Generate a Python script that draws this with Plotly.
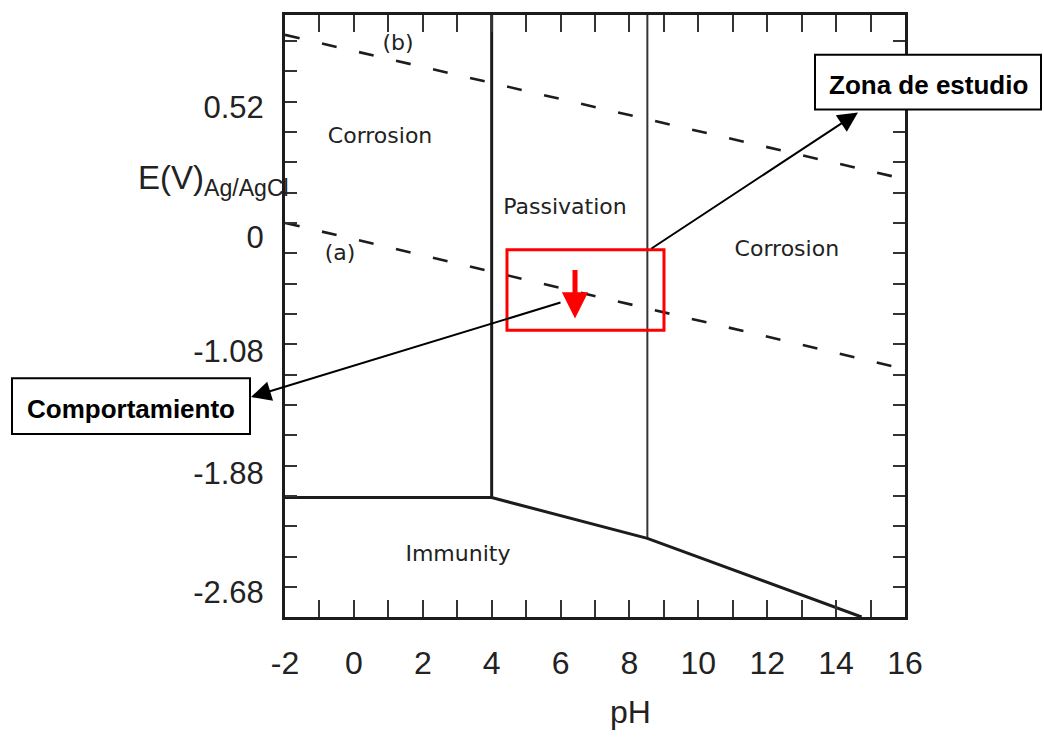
import plotly.graph_objects as go

# ---------------- data ----------------
PH_RANGE = [-2, 16]
E_RANGE = [-2.831, 1.136]

X_TICKS = [-2, 0, 2, 4, 6, 8, 10, 12, 14, 16]
Y_TICK_POS = [0.527, -0.326, -1.08, -1.88, -2.667]
Y_TICK_TEXT = ["0.52", "0", "-1.08", "-1.88", "-2.68"]

LINE_A_PH = [-2, 16]
LINE_A_E = [-0.234, -1.198]
LINE_B_PH = [-2, 16]
LINE_B_E = [1.005, 0.054]

VERT1_PH = [4, 4]
VERT1_E = [1.136, -2.044]
VERT2_PH = [8.52, 8.52]
VERT2_E = [1.136, -2.313]

BOUND_PH = [-2, 4, 8.52, 14.74]
BOUND_E = [-2.044, -2.044, -2.313, -2.831]

REGION_TEXT = ["Corrosion", "Passivation", "Corrosion", "Immunity", "(b)", "(a)"]
REGION_PH = [0.76, 6.13, 12.57, 3.02, 1.28, -0.40]
REGION_E = [0.330, -0.142, -0.418, -2.424, 0.940, -0.444]

STUDY_PH = [4.445, 9.003]
STUDY_E = [-0.942, -0.411]
ARROW_PH = 6.42
ARROW_E = -0.864

# ---------------- layout helpers (pixel -> paper) ----------------
L, R, T, B = 285, 905, 12, 617
W, H = 1044, 743


def px(x):
    return (x - L) / (R - L)


def py(y):
    return (B - y) / (B - T)


LINE_COL = "#1c1c1c"
fig = go.Figure()

dash = "15px,23px"
fig.add_trace(go.Scatter(x=LINE_A_PH, y=LINE_A_E, mode="lines",
                         line=dict(color=LINE_COL, width=2.6, dash=dash), hoverinfo="skip"))
fig.add_trace(go.Scatter(x=LINE_B_PH, y=LINE_B_E, mode="lines",
                         line=dict(color=LINE_COL, width=2.6, dash=dash), hoverinfo="skip"))
fig.add_trace(go.Scatter(x=VERT1_PH, y=VERT1_E, mode="lines",
                         line=dict(color=LINE_COL, width=3), hoverinfo="skip"))
fig.add_trace(go.Scatter(x=VERT2_PH, y=VERT2_E, mode="lines",
                         line=dict(color="#333333", width=2), hoverinfo="skip"))
fig.add_trace(go.Scatter(x=BOUND_PH, y=BOUND_E, mode="lines",
                         line=dict(color=LINE_COL, width=3), hoverinfo="skip"))

fig.add_trace(go.Scatter(x=REGION_PH, y=REGION_E, mode="text", text=REGION_TEXT,
                         textfont=dict(family="DejaVu Sans", size=22, color="#222222"),
                         textposition="middle center", hoverinfo="skip"))

# study zone rectangle
fig.add_shape(type="rect", xref="x", yref="y",
              x0=STUDY_PH[0], x1=STUDY_PH[1], y0=STUDY_E[0], y1=STUDY_E[1],
              line=dict(color="#ff0000", width=3))

annotations = []
# red arrow
annotations.append(dict(x=ARROW_PH, y=ARROW_E, xref="x", yref="y", ax=0, ay=-50,
                        text="", showarrow=True, arrowhead=2, arrowsize=1.05,
                        arrowwidth=5, arrowcolor="#ff0000"))
# black arrows
annotations.append(dict(x=px(858), y=py(110), xref="paper", yref="paper",
                        ax=650 - 858, ay=247 - 110, text="", showarrow=True,
                        arrowhead=2, arrowsize=2, arrowwidth=2, arrowcolor="black"))
annotations.append(dict(x=px(251), y=py(396), xref="paper", yref="paper",
                        ax=562 - 251, ay=301 - 396, text="", showarrow=True,
                        arrowhead=2, arrowsize=2, arrowwidth=2, arrowcolor="black"))

# boxes
fig.add_shape(type="rect", xref="paper", yref="paper", x0=px(815), x1=px(1041),
              y0=py(107), y1=py(52), line=dict(color="black", width=2),
              fillcolor="white", layer="above")
fig.add_shape(type="rect", xref="paper", yref="paper", x0=px(12), x1=px(250),
              y0=py(433), y1=py(377), line=dict(color="black", width=2),
              fillcolor="white", layer="above")
annotations.append(dict(x=px(928), y=py(82), xref="paper", yref="paper",
                        xanchor="center", yanchor="middle",
                        text="<b>Zona de estudio</b>", showarrow=False,
                        font=dict(family="Liberation Sans", size=26, color="black")))
annotations.append(dict(x=px(131), y=py(408), xref="paper", yref="paper",
                        xanchor="center", yanchor="middle",
                        text="<b>Comportamiento</b>", showarrow=False,
                        font=dict(family="Liberation Sans", size=26, color="black")))

# axis titles
annotations.append(dict(x=px(630), y=py(712), xref="paper", yref="paper",
                        xanchor="center", yanchor="middle",
                        text="pH", showarrow=False,
                        font=dict(family="Liberation Sans", size=32, color="#222222")))
annotations.append(dict(x=px(136), y=py(178), xref="paper", yref="paper",
                        xanchor="left", yanchor="middle",
                        text="E(V)<sub>Ag/AgCl</sub>", showarrow=False,
                        font=dict(family="Liberation Sans", size=33, color="#222222")))

fig.update_layout(
    width=W, height=H,
    margin=dict(l=L, r=W - R, t=T, b=H - B),
    paper_bgcolor="white", plot_bgcolor="white",
    showlegend=False,
    annotations=annotations,
    xaxis=dict(range=PH_RANGE, tickmode="array", tickvals=X_TICKS,
               ticktext=[str(v) for v in X_TICKS],
               ticks="inside", ticklen=17, tickwidth=2, tickcolor="#333333",
               minor=dict(ticks="inside", ticklen=17, tickwidth=2, tickcolor="#333333",
                          dtick=1, tick0=-2),
               showline=True, linewidth=3, linecolor=LINE_COL, mirror="allticks",
               showgrid=False, zeroline=False, ticklabelstandoff=16,
               tickfont=dict(family="Liberation Sans", size=32, color="#222222")),
    yaxis=dict(range=E_RANGE, tickmode="array", tickvals=Y_TICK_POS,
               ticktext=Y_TICK_TEXT, ticks="",
               minor=dict(ticks="inside", ticklen=12, tickwidth=2, tickcolor="#333333",
                          dtick=0.2, tick0=-2.634),
               showline=True, linewidth=3, linecolor=LINE_COL, mirror="allticks",
               showgrid=False, zeroline=False, ticklabelstandoff=12,
               tickfont=dict(family="Liberation Sans", size=31, color="#222222")),
)

fig.write_html("out.html")
